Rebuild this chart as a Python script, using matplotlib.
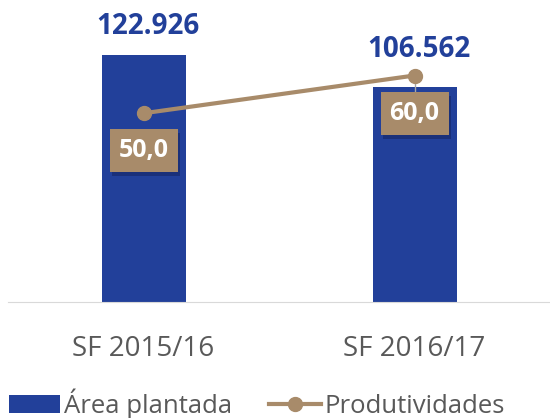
import matplotlib.pyplot as plt
import matplotlib.patheffects as pe
import numpy as np

safras = ["SF 2015/16", "SF 2016/17"]
area = [122926, 106562]
produtividade = [50.0, 60.0]
area_labels = ["122.926", "106.562"]
prod_labels = ["50,0", "60,0"]

azul = "#22409A"
bege = "#A88B6A"
cinza = "#595959"

plt.rcParams['font.family'] = ['Open Sans', 'DejaVu Sans']

fig = plt.figure(figsize=(5.5, 4.18), dpi=100)
ax = fig.add_axes([0.0, 0.2775, 1.0, 0.7225])
x = np.arange(len(safras))

ax.bar(x, area, width=0.31, color=azul, label="Área plantada", zorder=2)
ax.set_xlim(-0.53, 1.5)
ax.set_ylim(0, 150000)

# rótulos das barras (o segundo foi afastado da linha)
gaps = [10, 17]
for i, v in enumerate(area):
    ax.annotate(area_labels[i], xy=(x[i], v), xytext=(3, gaps[i]), textcoords="offset points",
                ha="center", va="bottom", color=azul, fontsize=20, fontweight="bold")

ax2 = ax.twinx()
ax2.set_ylim(0, 80)
ax2.plot(x, produtividade, color=bege, lw=3, marker="o", ms=10, label="Produtividades", zorder=3)

for i, v in enumerate(produtividade):
    if i == 1:
        ax2.plot([x[i], x[i]], [v, v - 4], color="#A6A6A6", lw=1, zorder=2)
    t = ax2.annotate(prod_labels[i], xy=(x[i], v), xytext=(0, -27), textcoords="offset points",
                     ha="center", va="center", color="white", fontsize=18, fontweight="bold",
                     bbox=dict(boxstyle="square,pad=0.36", fc=bege, ec="none"), zorder=5)
    t.get_bbox_patch().set_path_effects([
        pe.SimplePatchShadow(offset=(2, -3), shadow_rgbFace=(0.05, 0.08, 0.25), alpha=0.35),
        pe.Normal()])

for a in (ax, ax2):
    for s in a.spines.values():
        s.set_visible(False)
    a.set_yticks([])
ax.spines["bottom"].set_visible(True)
ax.spines["bottom"].set_color("#D9D9D9")
ax.spines["bottom"].set_bounds(-0.5, 1.5)

ax.set_xticks(x)
ax.set_xticklabels(safras, fontsize=20, color=cinza)
ax.tick_params(axis="x", length=0, pad=24)

h1, l1 = ax.get_legend_handles_labels()
h2, l2 = ax2.get_legend_handles_labels()
fig.legend(h1 + h2, l1 + l2, loc="center left", bbox_to_anchor=(0.016, 0.034), ncol=2, frameon=False,
           fontsize=18.5, labelcolor=cinza, handlelength=2.0, handletextpad=0.15, columnspacing=1.45,
           borderaxespad=0, borderpad=0)

fig.savefig("out.png", dpi=100)
